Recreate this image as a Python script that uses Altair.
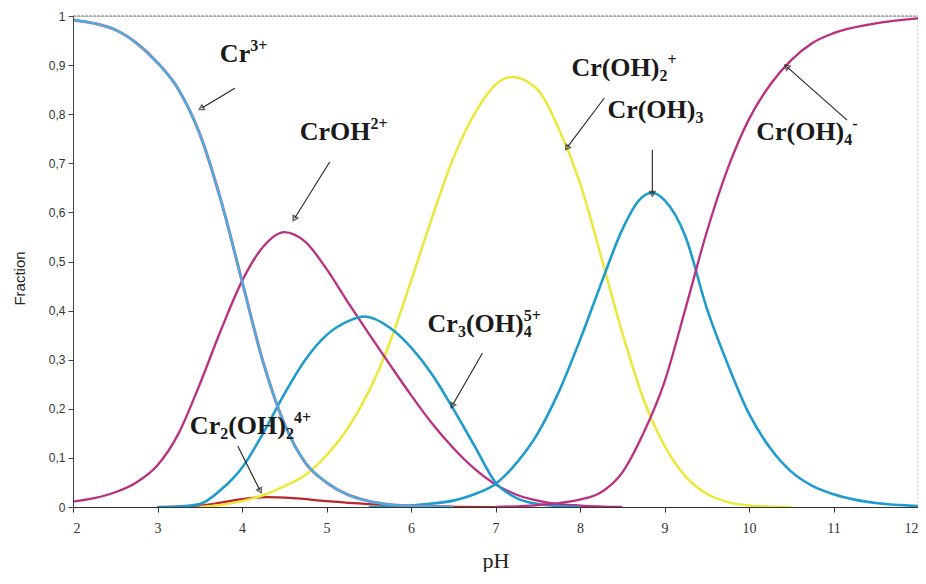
import math
import altair as alt
import pandas as pd

# ---------------- data ----------------
cr3_ph = [2.0, 2.25, 2.5, 2.75, 3.0, 3.25, 3.5, 3.75, 4.0, 4.25, 4.5, 4.75, 5.0, 5.25, 5.5, 5.75, 6.0, 6.5]
cr3_v = [0.992, 0.985, 0.972, 0.945, 0.905, 0.85, 0.76, 0.625, 0.46, 0.295, 0.17, 0.09, 0.05, 0.025, 0.012, 0.005, 0.002, 0.0]

croh_ph = [2.0, 2.25, 2.5, 2.75, 3.0, 3.25, 3.5, 3.75, 4.0, 4.25, 4.5, 4.75, 5.0, 5.25, 5.5, 5.75, 6.0, 6.25, 6.5, 6.75, 7.0, 7.25, 7.5, 7.75, 8.0, 8.5]
croh_v = [0.011, 0.018, 0.03, 0.05, 0.085, 0.15, 0.25, 0.36, 0.46, 0.53, 0.56, 0.54, 0.485, 0.418, 0.353, 0.29, 0.228, 0.17, 0.12, 0.078, 0.046, 0.025, 0.013, 0.006, 0.003, 0.0]

cr3oh4_ph = [3.0, 3.25, 3.5, 3.75, 4.0, 4.25, 4.5, 4.75, 5.0, 5.25, 5.45, 5.75, 6.0, 6.25, 6.5, 6.75, 7.0, 7.25, 7.5, 7.75, 8.0]
cr3oh4_v = [0.0, 0.001, 0.006, 0.035, 0.08, 0.15, 0.23, 0.30, 0.35, 0.378, 0.388, 0.365, 0.325, 0.27, 0.20, 0.125, 0.05, 0.018, 0.006, 0.002, 0.0]

cr2oh2_ph = [3.0, 3.5, 3.75, 4.0, 4.3, 4.6, 5.0, 5.5, 6.0, 6.5, 7.0]
cr2oh2_v = [0.0, 0.003, 0.009, 0.016, 0.02, 0.018, 0.012, 0.006, 0.002, 0.0005, 0.0]

croh2_ph = [3.5, 3.75, 4.0, 4.25, 4.5, 4.75, 5.0, 5.25, 5.5, 5.75, 6.0, 6.25, 6.5, 6.75, 7.0, 7.2, 7.5, 7.75, 8.0, 8.25, 8.5, 8.75, 9.0, 9.25, 9.5, 9.75, 10.0, 10.5]
croh2_v = [0.0, 0.004, 0.012, 0.024, 0.042, 0.065, 0.105, 0.16, 0.235, 0.335, 0.46, 0.59, 0.71, 0.80, 0.86, 0.876, 0.85, 0.77, 0.66, 0.51, 0.355, 0.22, 0.125, 0.062, 0.027, 0.01, 0.003, 0.0]

croh3_ph = [5.5, 6.0, 6.25, 6.5, 6.75, 7.0, 7.25, 7.5, 7.75, 8.0, 8.25, 8.5, 8.7, 8.85, 9.0, 9.25, 9.5, 9.75, 10.0, 10.25, 10.5, 10.75, 11.0, 11.25, 11.5, 12.0]
croh3_v = [0.0, 0.003, 0.007, 0.013, 0.026, 0.047, 0.09, 0.15, 0.235, 0.34, 0.455, 0.565, 0.625, 0.64, 0.625, 0.55, 0.405, 0.29, 0.19, 0.12, 0.072, 0.043, 0.026, 0.015, 0.008, 0.002]

croh4_ph = [7.0, 7.5, 7.75, 8.0, 8.25, 8.5, 8.75, 9.0, 9.25, 9.5, 9.75, 10.0, 10.25, 10.5, 10.75, 11.0, 11.5, 12.0]
croh4_v = [0.0, 0.004, 0.008, 0.015, 0.03, 0.07, 0.15, 0.255, 0.405, 0.56, 0.69, 0.79, 0.86, 0.91, 0.945, 0.965, 0.985, 0.995]

# labels: pieces (text, kind) with main / sub / sup, and the left-baseline anchor (pH, fraction)
label_pieces = [
    [("Cr", "m"), ("3+", "p")],
    [("CrOH", "m"), ("2+", "p")],
    [("Cr(OH)", "m"), ("2", "b"), ("+", "p")],
    [("Cr(OH)", "m"), ("3", "b")],
    [("Cr(OH)", "m"), ("4", "b"), ("-", "p")],
    [("Cr", "m"), ("3", "b"), ("(OH)", "m"), ("4", "b"), ("5+", "P")],
    [("Cr", "m"), ("2", "b"), ("(OH)", "m"), ("2", "b"), ("4+", "p")],
]
label_x = [3.738, 4.683, 7.898, 8.324, 10.085, 6.196, 3.383]
label_y = [0.906, 0.747, 0.878, 0.792, 0.747, 0.356, 0.149]

# arrows: start (pH, fraction) -> tip (pH, fraction)
arr_x1 = [3.915, 5.038, 8.288, 8.856, 11.161, 6.846, 3.950]
arr_y1 = [0.853, 0.7026, 0.833, 0.727, 0.788, 0.3136, 0.124]
arr_x2 = [3.525, 4.624, 7.851, 8.856, 10.452, 6.492, 4.210]
arr_y2 = [0.8126, 0.5886, 0.733, 0.6395, 0.896, 0.2077, 0.0346]

# ---------------- styling / layout ----------------
MAG = "#bb2f7f"
BLUE = "#1f9ccf"
CYAN = "#3fb4e0"
YEL = "#ece83a"
RED = "#b8282a"

W, H = 845, 491
PX_X = W / 10.0
PX_Y = H / 1.0
MAIN, SMALL = 26, 16
# Times/Liberation Serif Bold advance widths (em)
ADV = {"C": .722, "r": .444, "(": .333, ")": .333, "O": .778, "H": .778,
       "0": .5, "1": .5, "2": .5, "3": .5, "4": .5, "5": .5, "+": .57, "-": .333}

def tw(s, size):
    return sum(ADV.get(c, .5) for c in s) * size

rows = []
for pieces, x0, y0 in zip(label_pieces, label_x, label_y):
    cur = 0.0
    prev_w = 0.0
    for txt, kind in pieces:
        size = MAIN if kind == "m" else SMALL
        if kind == "P":  # superscript stacked above the previous subscript
            cur -= prev_w
        dy = 0 if kind == "m" else (5 if kind == "b" else -11)
        rows.append({"t": txt, "x": x0 + cur / PX_X, "y": y0 - dy / PX_Y, "s": size})
        prev_w = tw(txt, size)
        cur += prev_w
labels = pd.DataFrame(rows)

arrows = pd.DataFrame({"x1": arr_x1, "y1": arr_y1, "x2": arr_x2, "y2": arr_y2})
arrows["angle"] = [
    (math.degrees(math.atan2((b - a) * PX_X, (d - c) * PX_Y)) + 360) % 360
    for a, b, c, d in zip(arr_x1, arr_x2, arr_y1, arr_y2)
]

xs = alt.Scale(domain=[2, 12], nice=False, zero=False)
ys = alt.Scale(domain=[0, 1], nice=False, zero=False)
XAX = alt.Axis(values=list(range(2, 13)), tickSize=5, labelPadding=9, grid=False,
               domainColor="#333", tickColor="#333", labelColor="#333",
               labelFont="Liberation Serif", labelFontSize=14,
               titleFont="Liberation Serif", titleFontSize=22, titleFontWeight="normal",
               titleColor="#222", titlePadding=15, zindex=1)
YAX = alt.Axis(values=[i / 10 for i in range(11)], tickSize=5, labelPadding=3, grid=False,
               labelExpr="replace(format(datum.value, '.1~f'), '.', ',')",
               domainColor="#444", tickColor="#444", labelColor="#333",
               labelFont="Liberation Sans", labelFontSize=12,
               titleFont="Liberation Sans", titleFontSize=15, titleFontWeight="normal",
               titleColor="#222", titlePadding=21, titleY=262, zindex=1)

def X(field):
    return alt.X(field, type="quantitative", scale=xs, axis=XAX, title="pH")

def Y(field):
    return alt.Y(field, type="quantitative", scale=ys, axis=YAX, title="Fraction")

def line(xv, yv, color, width):
    df = pd.DataFrame({"pH": xv, "Fraction": yv})
    return alt.Chart(df).mark_line(color=color, strokeWidth=width, interpolate="monotone", clip=True).encode(
        x=X("pH"), y=Y("Fraction"))

top_rule = alt.Chart(pd.DataFrame({"pH": [2.0], "pH2": [12.0], "Fraction": [1.0]})).mark_rule(
    color="#777", strokeDash=[3, 1], strokeWidth=1).encode(x=X("pH"), x2="pH2:Q", y=Y("Fraction"))
right_rule = alt.Chart(pd.DataFrame({"pH": [12.0], "Fraction": [0.0], "F2": [1.0]})).mark_rule(
    color="#bbb", strokeDash=[2, 2], strokeWidth=1).encode(x=X("pH"), y=Y("Fraction"), y2="F2:Q")

layers = [
    top_rule, right_rule,
    line(cr2oh2_ph, cr2oh2_v, RED, 2.2),
    line(croh2_ph, croh2_v, YEL, 2.5),
    line(croh_ph, croh_v, MAG, 2.3),
    line(cr3oh4_ph, cr3oh4_v, BLUE, 2.6),
    line(croh3_ph, croh3_v, BLUE, 2.6),
    line(croh4_ph, croh4_v, MAG, 2.3),
    line(cr3_ph, cr3_v, "#d05aa0", 3.0),
    line(cr3_ph, cr3_v, CYAN, 2.2),
]

arrow_lines = alt.Chart(arrows).mark_rule(color="#222", strokeWidth=1.1).encode(
    x=X("x1"), y=Y("y1"), x2="x2:Q", y2="y2:Q")
arrow_heads = alt.Chart(arrows).mark_point(shape="triangle", filled=False, color="#222", size=28, strokeWidth=1.4).encode(
    x=X("x2"), y=Y("y2"), angle=alt.Angle("angle:Q", scale=None))
label_marks = alt.Chart(labels).mark_text(align="left", baseline="alphabetic", font="Liberation Serif",
                                          fontWeight="bold", color="#1a1a1a").encode(
    x=X("x"), y=Y("y"), text="t:N", size=alt.Size("s:Q", scale=None))

chart = alt.layer(*layers, arrow_lines, arrow_heads, label_marks).properties(
    width=W, height=H,
    autosize=alt.AutoSizeParams(type="none"),
    padding={"left": 65, "top": 8, "right": 0, "bottom": 65},
).configure_view(stroke=None).configure(background="white")

chart.save("out.html", embed_options={"renderer": "svg", "actions": False})
